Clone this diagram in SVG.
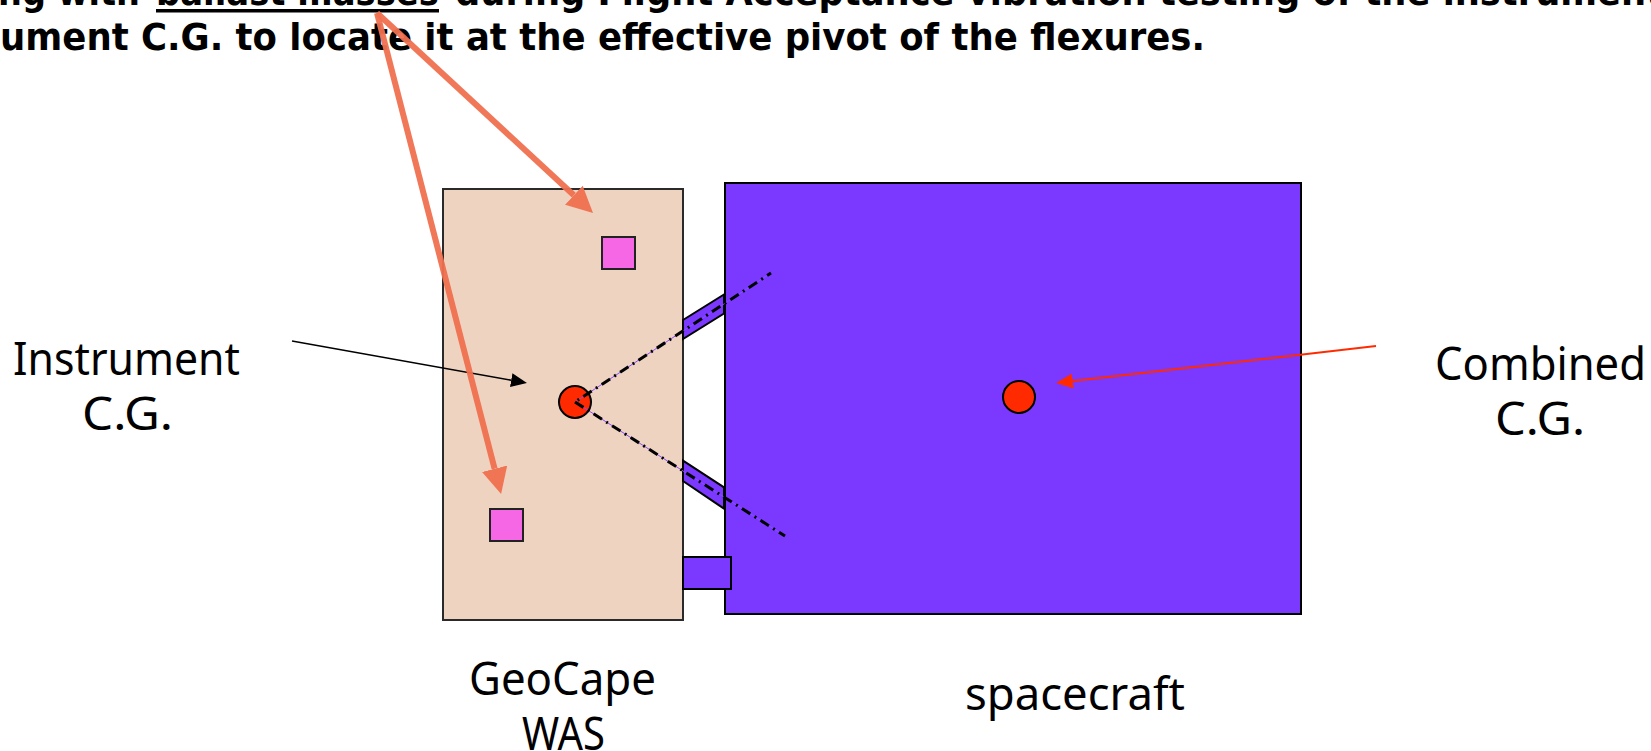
<svg xmlns="http://www.w3.org/2000/svg" width="1651" height="751" viewBox="0 0 1651 751">
<style>
.hdr{font-family:"DejaVu Sans","Liberation Sans",sans-serif;font-weight:bold;font-size:38px;fill:#000}
.lbl{font-family:"Noto Sans","Open Sans","DejaVu Sans",sans-serif;font-size:46px;fill:#000}
.was{fill:#EFD3C1;stroke:#2a2a2a;stroke-width:2}
.sc{fill:#7B38FF;stroke:#000;stroke-width:2}
.mass{fill:#F567E5;stroke:#222;stroke-width:2}
.cg{fill:#FF2A00;stroke:#000;stroke-width:2}
.axis{fill:none;stroke:#000;stroke-width:3;stroke-dasharray:10 5 2 5}
.axisc{fill:none;stroke:#8A4CFF;stroke-width:1}
.ora{fill:none;stroke:#F07050;stroke-width:6;opacity:0.95}
</style>
<defs>
<marker id="ah-ora" markerUnits="userSpaceOnUse" markerWidth="26" markerHeight="26" viewBox="0 0 26 26" refX="0" refY="13" orient="auto"><path d="M0,0 L26,13 L0,26 Z" fill="#F07050"/></marker>
<marker id="ah-blk" markerUnits="userSpaceOnUse" markerWidth="16" markerHeight="14" viewBox="0 0 16 14" refX="0" refY="7" orient="auto"><path d="M0,0 L16,7 L0,14 Z" fill="#000"/></marker>
<marker id="ah-red" markerUnits="userSpaceOnUse" markerWidth="17" markerHeight="15" viewBox="0 0 17 15" refX="0" refY="7.5" orient="auto"><path d="M0,0 L17,7.5 L0,15 Z" fill="#FF2A00"/></marker>
</defs>
<rect x="0" y="0" width="1651" height="751" fill="#fff"/>
<g id="spacecraft"><rect class="sc" x="725" y="183" width="576" height="431"/></g>
<g id="was"><rect class="was" x="443" y="189" width="240" height="431"/></g>
<g id="flexures">
<polygon class="sc" points="683,320 724,294.5 724,313.5 683,339"/>
<polygon class="sc" points="683,460.7 724,487.3 724,508.7 683,481"/>
<rect class="sc" x="683" y="557" width="48" height="32"/>
</g>
<g id="ballast-masses">
<rect class="mass" x="602" y="237" width="33" height="32"/>
<rect class="mass" x="490" y="509" width="33" height="32"/>
</g>
<g id="instrument-cg"><circle class="cg" cx="575" cy="402" r="16"/></g>
<g id="combined-cg"><circle class="cg" cx="1019" cy="397" r="16"/></g>
<g id="pivot-axes">
<line class="axisc" x1="575" y1="402" x2="771" y2="273"/>
<line class="axisc" x1="575" y1="402" x2="785" y2="536"/>
<line class="axis" x1="575" y1="402" x2="771" y2="273" stroke-dashoffset="12"/>
<line class="axis" x1="575" y1="402" x2="785" y2="536"/>
</g>
<g id="labels">
<text class="lbl" x="13" y="375" textLength="227" lengthAdjust="spacingAndGlyphs">Instrument</text>
<text class="lbl" x="82" y="430" textLength="91" lengthAdjust="spacingAndGlyphs">C.G.</text>
<text class="lbl" x="1435" y="380" textLength="211" lengthAdjust="spacingAndGlyphs">Combined</text>
<text class="lbl" x="1495" y="435" textLength="90" lengthAdjust="spacingAndGlyphs">C.G.</text>
<text class="lbl" x="469" y="695" textLength="187" lengthAdjust="spacingAndGlyphs">GeoCape</text>
<text class="lbl" x="522" y="750" textLength="83" lengthAdjust="spacingAndGlyphs">WAS</text>
<text class="lbl" x="965" y="710" textLength="220" lengthAdjust="spacingAndGlyphs">spacecraft</text>
</g>
<g id="header">
<text class="hdr" x="-2" y="5" textLength="142" lengthAdjust="spacingAndGlyphs">ng with</text>
<text class="hdr" x="156" y="5" textLength="283" lengthAdjust="spacingAndGlyphs">ballast masses</text>
<rect x="156" y="9" width="283" height="3.5" fill="#000"/>
<text class="hdr" x="455" y="5" textLength="1208" lengthAdjust="spacingAndGlyphs">during Flight Acceptance vibration testing of the instrument</text>
<text class="hdr" x="0" y="50" textLength="1205" lengthAdjust="spacingAndGlyphs">ument C.G. to locate it at the effective pivot of the flexures.</text>
</g>
<g id="connectors">
<line x1="292" y1="341" x2="511.2" y2="380.2" stroke="#000" stroke-width="1.5" marker-end="url(#ah-blk)"/>
<line x1="1376" y1="346" x2="1072.9" y2="381" stroke="#FF2A00" stroke-width="2" marker-end="url(#ah-red)"/>
<line class="ora" x1="377" y1="13" x2="573.9" y2="195.3" marker-end="url(#ah-ora)"/>
<line class="ora" x1="377" y1="13" x2="494.6" y2="468.8" marker-end="url(#ah-ora)"/>
</g>
</svg>
